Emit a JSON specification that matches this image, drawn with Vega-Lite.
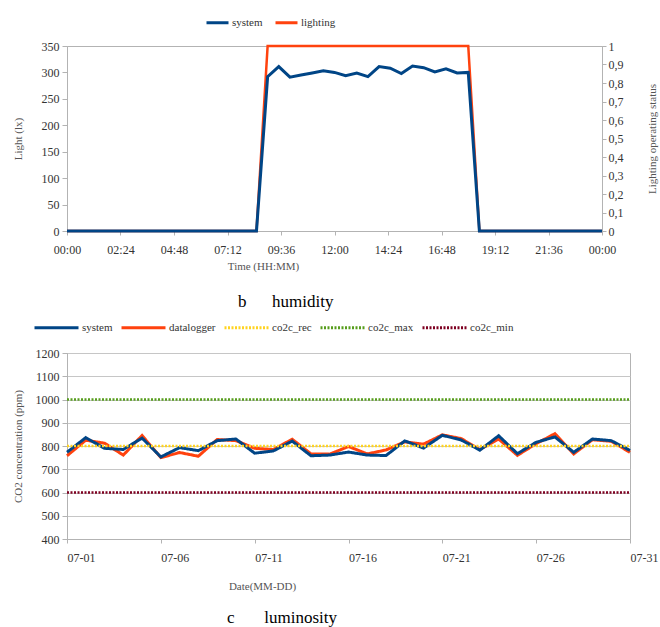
{
  "$schema": "https://vega.github.io/schema/vega-lite/v6.json",
  "background": "white",
  "padding": {"left": 11, "top": 9, "right": 0, "bottom": 2},
  "bounds": "flush",
  "spacing": 122,
  "resolve": {"scale": {"color": "independent", "strokeDash": "independent"}, "legend": {"color": "independent", "strokeDash": "independent"}},
  "config": {
    "font": "Liberation Serif",
    "view": {"stroke": "#b3b3b3", "strokeWidth": 1},
    "axis": {
      "labelFont": "Liberation Serif", "labelFontSize": 12, "labelColor": "#333333",
      "titleFont": "Liberation Serif", "titleFontSize": 11, "titleFontWeight": "normal", "titleColor": "#555555",
      "domainColor": "#b3b3b3", "tickColor": "#b3b3b3", "gridColor": "#c6c6c6",
      "tickSize": 5, "labelFlush": false, "labelOverlap": false
    },
    "legend": {"labelFont": "Liberation Serif", "labelFontSize": 11, "labelColor": "#333333"}
  },
  "datasets": {
    "light": [
      {"hour": 0, "system": 0, "lighting": 0}, {"hour": 0.5, "system": 0, "lighting": 0},
      {"hour": 1, "system": 0, "lighting": 0}, {"hour": 1.5, "system": 0, "lighting": 0},
      {"hour": 2, "system": 0, "lighting": 0}, {"hour": 2.5, "system": 0, "lighting": 0},
      {"hour": 3, "system": 0, "lighting": 0}, {"hour": 3.5, "system": 0, "lighting": 0},
      {"hour": 4, "system": 0, "lighting": 0}, {"hour": 4.5, "system": 0, "lighting": 0},
      {"hour": 5, "system": 0, "lighting": 0}, {"hour": 5.5, "system": 0, "lighting": 0},
      {"hour": 6, "system": 0, "lighting": 0}, {"hour": 6.5, "system": 0, "lighting": 0},
      {"hour": 7, "system": 0, "lighting": 0}, {"hour": 7.5, "system": 0, "lighting": 0},
      {"hour": 8, "system": 0, "lighting": 0}, {"hour": 8.5, "system": 0, "lighting": 0},
      {"hour": 9, "system": 292, "lighting": 1}, {"hour": 9.5, "system": 311, "lighting": 1},
      {"hour": 10, "system": 291, "lighting": 1}, {"hour": 10.5, "system": 295, "lighting": 1},
      {"hour": 11, "system": 299, "lighting": 1}, {"hour": 11.5, "system": 303, "lighting": 1},
      {"hour": 12, "system": 300, "lighting": 1}, {"hour": 12.5, "system": 294, "lighting": 1},
      {"hour": 13, "system": 299, "lighting": 1}, {"hour": 13.5, "system": 292, "lighting": 1},
      {"hour": 14, "system": 311, "lighting": 1}, {"hour": 14.5, "system": 308, "lighting": 1},
      {"hour": 15, "system": 298, "lighting": 1}, {"hour": 15.5, "system": 312, "lighting": 1},
      {"hour": 16, "system": 309, "lighting": 1}, {"hour": 16.5, "system": 301, "lighting": 1},
      {"hour": 17, "system": 307, "lighting": 1}, {"hour": 17.5, "system": 299, "lighting": 1},
      {"hour": 18, "system": 300, "lighting": 1}, {"hour": 18.5, "system": 0, "lighting": 0},
      {"hour": 19, "system": 0, "lighting": 0}, {"hour": 19.5, "system": 0, "lighting": 0},
      {"hour": 20, "system": 0, "lighting": 0}, {"hour": 20.5, "system": 0, "lighting": 0},
      {"hour": 21, "system": 0, "lighting": 0}, {"hour": 21.5, "system": 0, "lighting": 0},
      {"hour": 22, "system": 0, "lighting": 0}, {"hour": 22.5, "system": 0, "lighting": 0},
      {"hour": 23, "system": 0, "lighting": 0}, {"hour": 23.5, "system": 0, "lighting": 0},
      {"hour": 24, "system": 0, "lighting": 0}
    ],
    "co2": [
      {"day": 1, "system": 773, "datalogger": 758}, {"day": 2, "system": 836, "datalogger": 825},
      {"day": 3, "system": 790, "datalogger": 812}, {"day": 4, "system": 785, "datalogger": 761},
      {"day": 5, "system": 834, "datalogger": 845}, {"day": 6, "system": 753, "datalogger": 750},
      {"day": 7, "system": 793, "datalogger": 772}, {"day": 8, "system": 780, "datalogger": 756},
      {"day": 9, "system": 823, "datalogger": 828}, {"day": 10, "system": 830, "datalogger": 823},
      {"day": 11, "system": 769, "datalogger": 790}, {"day": 12, "system": 779, "datalogger": 785},
      {"day": 13, "system": 821, "datalogger": 829}, {"day": 14, "system": 758, "datalogger": 766},
      {"day": 15, "system": 761, "datalogger": 765}, {"day": 16, "system": 774, "datalogger": 798},
      {"day": 17, "system": 761, "datalogger": 766}, {"day": 18, "system": 759, "datalogger": 783},
      {"day": 19, "system": 822, "datalogger": 818}, {"day": 20, "system": 791, "datalogger": 808},
      {"day": 21, "system": 846, "datalogger": 848}, {"day": 22, "system": 826, "datalogger": 832},
      {"day": 23, "system": 782, "datalogger": 785}, {"day": 24, "system": 844, "datalogger": 830},
      {"day": 25, "system": 767, "datalogger": 760}, {"day": 26, "system": 816, "datalogger": 810},
      {"day": 27, "system": 839, "datalogger": 853}, {"day": 28, "system": 773, "datalogger": 766},
      {"day": 29, "system": 830, "datalogger": 827}, {"day": 30, "system": 823, "datalogger": 820},
      {"day": 31, "system": 781, "datalogger": 773}
    ],
    "limits": [
      {"series": "co2c_rec", "day": 1, "value": 800}, {"series": "co2c_rec", "day": 31, "value": 800},
      {"series": "co2c_max", "day": 1, "value": 1000}, {"series": "co2c_max", "day": 31, "value": 1000},
      {"series": "co2c_min", "day": 1, "value": 600}, {"series": "co2c_min", "day": 31, "value": 600}
    ]
  },
  "vconcat": [
    {
      "width": 535,
      "height": 185,
      "title": {"text": "b\u00a0\u00a0\u00a0\u00a0\u00a0\u00a0humidity", "orient": "bottom", "anchor": "start", "frame": "group", "dx": 171, "offset": 23, "font": "Liberation Serif", "fontSize": 17, "fontWeight": "normal", "color": "#000000"},
      "data": {"name": "light"},
      "encoding": {
        "x": {"field": "hour", "type": "quantitative", "scale": {"domain": [0, 24], "nice": false},
          "axis": {"values": [0, 2.4, 4.8, 7.2, 9.6, 12, 14.4, 16.8, 19.2, 21.6, 24],
            "labelExpr": "timeFormat(datetime(2020,0,1,0,round(datum.value*60),0),'%H:%M')",
            "title": "Time (HH:MM)", "grid": false, "tickSize": 4, "labelPadding": 9, "titlePadding": 5, "titleX": 196}}
      },
      "layer": [
        {
          "mark": {"type": "line", "strokeWidth": 2.5},
          "encoding": {
            "y": {"field": "lighting", "type": "quantitative", "scale": {"domain": [0, 1], "nice": false},
              "axis": {"orient": "right", "title": "Lighting operating status", "grid": false,
                "values": [0, 0.1, 0.2, 0.3, 0.4, 0.5, 0.6, 0.7, 0.8, 0.9, 1],
                "labelExpr": "replace(format(datum.value,'.1~f'),'.',',')",
                "tickSize": 4, "labelPadding": 2, "titlePadding": 34, "titleAngle": -90}},
            "color": {"datum": "lighting", "type": "nominal",
              "scale": {"domain": ["system", "lighting"], "range": ["#004586", "#ff420e"]},
              "legend": {"title": null, "orient": "none", "legendX": 138, "legendY": -36, "direction": "horizontal", "symbolType": "stroke", "symbolSize": 484, "symbolStrokeWidth": 3, "labelOffset": 2, "columnPadding": 6}}
          }
        },
        {
          "mark": {"type": "line", "strokeWidth": 3},
          "encoding": {
            "y": {"field": "system", "type": "quantitative", "scale": {"domain": [0, 350], "nice": false},
              "axis": {"orient": "left", "title": "Light (lx)", "values": [0, 50, 100, 150, 200, 250, 300, 350],
                "tickSize": 5, "labelPadding": 3, "titlePadding": 18}},
            "color": {"datum": "system", "type": "nominal",
              "scale": {"domain": ["system", "lighting"], "range": ["#004586", "#ff420e"]},
              "legend": {"title": null, "orient": "none", "legendX": 138, "legendY": -36, "direction": "horizontal", "symbolType": "stroke", "symbolSize": 484, "symbolStrokeWidth": 3, "labelOffset": 2, "columnPadding": 6}}
          }
        }
      ],
      "resolve": {"scale": {"y": "independent"}}
    },
    {
      "width": 563,
      "height": 186,
      "title": {"text": "c\u00a0\u00a0\u00a0\u00a0\u00a0\u00a0\u00a0luminosity", "orient": "bottom", "anchor": "start", "frame": "group", "dx": 160, "offset": 19, "font": "Liberation Serif", "fontSize": 17, "fontWeight": "normal", "color": "#000000"},
      "encoding": {
        "x": {"field": "day", "type": "quantitative", "scale": {"domain": [1, 31], "nice": false},
          "axis": {"values": [1, 6, 11, 16, 21, 26, 31],
            "labelExpr": "'07-' + (datum.value < 10 ? '0' : '') + datum.value",
            "labelAlign": "left", "title": "Date(MM-DD)", "grid": false, "tickSize": 4, "labelPadding": 9, "titlePadding": 17, "titleX": 195}},
        "y": {"field": "value", "type": "quantitative", "scale": {"domain": [400, 1200], "nice": false},
          "axis": {"title": "CO2 concentration (ppm)", "values": [400, 500, 600, 700, 800, 900, 1000, 1100, 1200], "format": "d",
            "tickSize": 5, "labelPadding": 3, "titlePadding": 12}},
        "color": {"field": "series", "type": "nominal",
          "scale": {"domain": ["system", "datalogger", "co2c_rec", "co2c_max", "co2c_min"], "range": ["#004586", "#ff420e", "#ffd320", "#579d1c", "#7e0021"]},
          "legend": {"title": null, "orient": "none", "legendX": -34, "legendY": -49, "direction": "horizontal", "symbolType": "stroke", "symbolSize": 1936, "symbolStrokeWidth": 3, "labelOffset": 2, "columnPadding": 2}},
        "strokeDash": {"field": "series", "type": "nominal",
          "scale": {"domain": ["system", "datalogger", "co2c_rec", "co2c_max", "co2c_min"], "range": [[1, 0], [1, 0], [2, 1.5], [2, 1.5], [2, 1.5]]},
          "legend": {"title": null, "orient": "none", "legendX": -34, "legendY": -49, "direction": "horizontal", "symbolType": "stroke", "symbolSize": 1936, "symbolStrokeWidth": 3, "labelOffset": 2, "columnPadding": 2}}
      },
      "layer": [
        {
          "data": {"name": "co2"},
          "transform": [{"fold": ["datalogger", "system"], "as": ["series", "value"]}],
          "mark": {"type": "line", "strokeWidth": 3}
        },
        {
          "data": {"name": "limits"},
          "mark": {"type": "line", "strokeWidth": 2.5}
        }
      ]
    }
  ]
}
